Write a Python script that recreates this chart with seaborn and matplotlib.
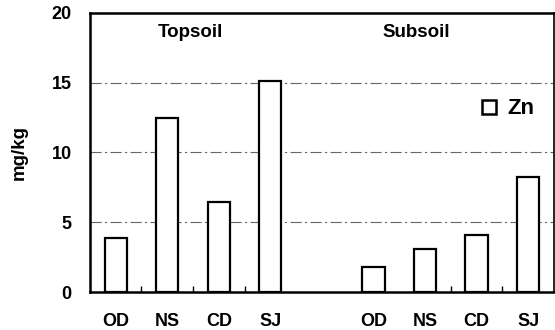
import pandas as pd
import matplotlib
matplotlib.use('Agg')
import matplotlib.pyplot as plt
import seaborn as sns
from matplotlib.lines import Line2D

sites = ['OD', 'NS', 'CD', 'SJ']
topsoil_zn = [3.9, 12.5, 6.45, 15.1]
subsoil_zn = [1.8, 3.1, 4.1, 8.25]

slots = ['T_' + s for s in sites] + ['gap'] + ['S_' + s for s in sites]
df = pd.DataFrame({
    'slot': ['T_' + s for s in sites] + ['S_' + s for s in sites],
    'Zn': topsoil_zn + subsoil_zn,
})

sns.set_style('white')
plt.rcParams['font.family'] = ['Liberation Sans', 'DejaVu Sans']
plt.rcParams['text.color'] = 'black'
plt.rcParams['axes.labelcolor'] = 'black'
plt.rcParams['xtick.color'] = 'black'
plt.rcParams['ytick.color'] = 'black'

fig = plt.figure(figsize=(5.55, 3.3), dpi=100)
ax = fig.add_axes([0.162, 0.115, 0.836, 0.846])

sns.barplot(data=df, x='slot', y='Zn', order=slots, color='white',
            edgecolor='black', linewidth=1.6, width=0.43, ax=ax, zorder=3)

ax.set_xlim(-0.5, 8.5)
ax.set_ylim(0, 20)
ax.set_yticks([0, 5, 10, 15, 20])
ax.set_yticklabels(['0', '5', '10', '15', '20'], fontsize=13, fontweight='bold')
pos = [0, 1, 2, 3, 5, 6, 7, 8]
ax.set_xticks(pos)
ax.set_xticklabels(sites + sites, fontsize=13, fontweight='bold')
ax.set_xticks([0.5, 1.5, 2.5, 6.5, 7.5], minor=True)
ax.tick_params(axis='x', which='major', length=0, pad=15)
ax.tick_params(axis='x', which='minor', direction='in', length=4, width=1, bottom=True)
ax.tick_params(axis='y', length=0, pad=13)
ax.set_xlabel('')
ax.set_ylabel('mg/kg', fontsize=13.5, fontweight='bold', labelpad=17)

for y in [5, 10, 15]:
    ax.axhline(y, color='#666666', lw=0.8, ls=(0, (10, 3, 2, 3)), zorder=1)

for side in ['left', 'bottom', 'top', 'right']:
    ax.spines[side].set_color('black')
ax.spines['left'].set_linewidth(1.8)
ax.spines['bottom'].set_linewidth(1.8)
ax.spines['top'].set_linewidth(1.8)
ax.spines['right'].set_linewidth(1.2)

ax.text(1.45, 18.6, 'Topsoil', ha='center', va='center', fontsize=13.5, fontweight='bold')
ax.text(5.84, 18.6, 'Subsoil', ha='center', va='center', fontsize=13.5, fontweight='bold')

handle = Line2D([], [], marker='s', color='none', markerfacecolor='white',
                markeredgecolor='black', markersize=10.5, markeredgewidth=1.8)
ax.legend([handle], ['Zn'], loc='center right', bbox_to_anchor=(0.958, 0.656),
          frameon=False, handlelength=0.6, handletextpad=0.55,
          borderpad=0, borderaxespad=0, prop={'size': 16, 'weight': 'bold'})

fig.savefig('out.png', dpi=100)
